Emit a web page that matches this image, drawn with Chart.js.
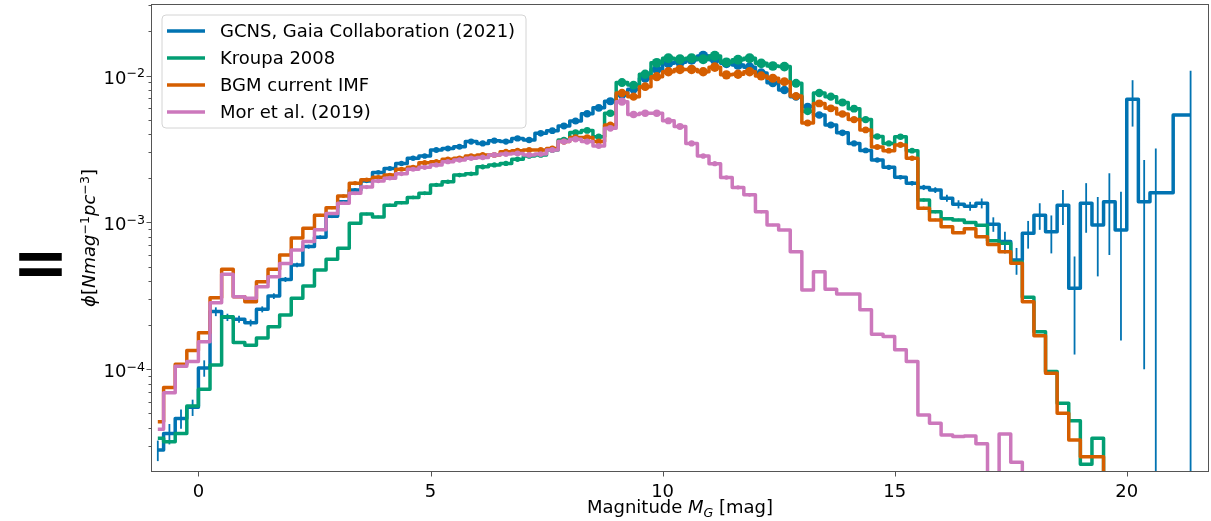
<!DOCTYPE html>
<html><head><meta charset="utf-8">
<script src="https://cdn.jsdelivr.net/npm/chart.js@4.4.1/dist/chart.umd.min.js"></script>
<style>
html,body{margin:0;padding:0;background:#fff;}
#wrap{position:relative;width:1211px;height:521px;overflow:hidden;}
canvas{position:absolute;left:0;top:0;}
#eq{position:absolute;left:12px;top:229px;font:bold 68px "DejaVu Sans";line-height:68px;color:#000;}
</style></head><body>
<div id="wrap"><canvas id="c" width="1211" height="521"></canvas><div id="eq">=</div></div>
<script>
// bin centres (0.25 mag bins starting at -1 mag)
const binCenters = Array.from({length: 90}, (_, i) => -0.875 + 0.25 * i);
const xTicks = [0, 5, 10, 15, 20];
const yTicks = [1e-4, 1e-3, 1e-2];
const seriesLabels = ['GCNS, Gaia Collaboration (2021)', 'Kroupa 2008', 'BGM current IMF', 'Mor et al. (2019)'];

const gcns = [2.82e-5, 3.66e-5, 4.63e-5, 5.51e-5, 1.02e-4, 2.47e-4, 2.26e-4, 2.19e-4, 2.07e-4, 2.56e-4,
3.15e-4, 4.09e-4, 5.13e-4, 6.84e-4, 7.93e-4, 1.10e-3, 1.38e-3, 1.66e-3, 1.91e-3, 2.19e-3,
2.33e-3, 2.52e-3, 2.73e-3, 2.83e-3, 3.11e-3, 3.19e-3, 3.27e-3, 3.55e-3, 3.45e-3, 3.60e-3,
3.55e-3, 3.73e-3, 3.64e-3, 4.04e-3, 4.21e-3, 4.53e-3, 4.90e-3, 5.50e-3, 6.03e-3, 6.68e-3,
7.36e-3, 8.07e-3, 9.57e-3, 1.10e-2, 1.21e-2, 1.23e-2, 1.28e-2, 1.36e-2, 1.28e-2, 1.21e-2,
1.18e-2, 1.14e-2, 1.04e-2, 8.93e-3, 7.96e-3, 7.18e-3, 6.14e-3, 5.38e-3, 4.60e-3, 4.07e-3,
3.45e-3, 3.09e-3, 2.66e-3, 2.37e-3, 2.03e-3, 1.85e-3, 1.73e-3, 1.66e-3, 1.46e-3, 1.33e-3,
1.29e-3, 1.35e-3, 9.73e-4, 7.40e-4, 5.55e-4, 8.43e-4, 1.12e-3, 8.65e-4, 1.31e-3, 3.56e-4,
1.35e-3, 9.59e-4, 1.38e-3, 8.87e-4, 6.89e-3, 1.38e-3, 1.59e-3, null, null, 5.38e-3];

const gcnsErr = [0.45e-5, 0.58e-5, 0.70e-5, 0.70e-5, 1.3e-5, 1.7e-5, 1.3e-5, 1.2e-5, 1.1e-5, 1.2e-5,
1.4e-5, 1.6e-5, 1.8e-5, 2.2e-5, 2.4e-5, 3.0e-5, 3.5e-5, 4.0e-5, 4.4e-5, 4.8e-5,
5.2e-5, 5.5e-5, 5.8e-5, 6.0e-5, 6.5e-5, 6.6e-5, 6.8e-5, 7.2e-5, 7.0e-5, 7.2e-5,
7.1e-5, 7.4e-5, 7.3e-5, 8.0e-5, 8.3e-5, 8.8e-5, 9.5e-5, 1.05e-4, 1.15e-4, 1.25e-4,
1.35e-4, 1.5e-4, 1.7e-4, 1.9e-4, 2.1e-4, 2.1e-4, 2.2e-4, 2.3e-4, 2.2e-4, 2.1e-4,
2.05e-4, 2.0e-4, 1.85e-4, 1.65e-4, 1.5e-4, 1.4e-4, 1.25e-4, 1.15e-4, 1.05e-4, 9.5e-5,
8.5e-5, 8.0e-5, 7.5e-5, 7.0e-5, 6.5e-5, 6.5e-5, 7.0e-5, 7.5e-5, 8.0e-5, 8.5e-5,
9.0e-5, 1.05e-4, 1.1e-4, 1.25e-4, 1.15e-4, 1.8e-4, 2.3e-4, 2.5e-4, 3.5e-4, 2.3e-4,
5.0e-4, 5.3e-4, 7.8e-4, 7.3e-4, 2.4e-3, 1.28e-3, 1.6e-3, null, null, 5.4e-3];

const kroupa = [3.39e-5, 3.21e-5, 3.66e-5, 5.62e-5, 7.31e-5, 1.07e-4, 2.28e-4, 1.52e-4, 1.46e-4, 1.63e-4,
1.95e-4, 2.34e-4, 3.04e-4, 3.69e-4, 4.74e-4, 5.61e-4, 6.67e-4, 9.86e-4, 1.14e-3, 1.09e-3,
1.31e-3, 1.36e-3, 1.48e-3, 1.58e-3, 1.80e-3, 1.89e-3, 2.10e-3, 2.14e-3, 2.39e-3, 2.46e-3,
2.52e-3, 2.69e-3, 2.83e-3, 2.88e-3, 3.11e-3, 3.64e-3, 4.09e-3, 4.23e-3, 3.83e-3, 5.53e-3,
8.95e-3, 8.61e-3, 1.02e-2, 1.22e-2, 1.31e-2, 1.29e-2, 1.31e-2, 1.29e-2, 1.36e-2, 1.23e-2,
1.28e-2, 1.31e-2, 1.21e-2, 1.16e-2, 1.15e-2, 8.85e-3, 5.70e-3, 7.60e-3, 7.18e-3, 6.55e-3,
5.94e-3, 5.01e-3, 3.85e-3, 3.45e-3, 3.83e-3, 3.08e-3, 1.42e-3, 1.18e-3, 1.06e-3, 1.04e-3,
1.00e-3, 9.55e-4, 7.50e-4, 7.21e-4, 5.37e-4, 3.09e-4, 1.80e-4, 9.64e-5, 5.86e-5, 4.47e-5,
2.26e-5, 3.39e-5, 1e-5];

const bgm = [4.40e-5, 7.53e-5, 1.08e-4, 1.34e-4, 1.77e-4, 3.07e-4, 4.80e-4, 3.12e-4, 2.88e-4, 3.94e-4,
4.80e-4, 6.00e-4, 7.82e-4, 9.12e-4, 1.12e-3, 1.26e-3, 1.51e-3, 1.85e-3, 1.95e-3, 2.03e-3,
2.10e-3, 2.30e-3, 2.37e-3, 2.55e-3, 2.59e-3, 2.69e-3, 2.73e-3, 2.83e-3, 2.88e-3, 2.88e-3,
3.03e-3, 3.08e-3, 3.11e-3, 3.11e-3, 3.19e-3, 3.55e-3, 3.79e-3, 3.79e-3, 3.55e-3, 4.60e-3,
7.60e-3, 7.18e-3, 8.39e-3, 9.82e-3, 1.06e-2, 1.10e-2, 1.10e-2, 1.06e-2, 1.14e-2, 1.01e-2,
1.02e-2, 1.06e-2, 9.93e-3, 9.57e-3, 9.08e-3, 7.24e-3, 4.75e-3, 6.46e-3, 5.98e-3, 5.46e-3,
5.01e-3, 4.26e-3, 3.26e-3, 3.08e-3, 3.37e-3, 2.73e-3, 1.25e-3, 1.04e-3, 9.35e-4, 8.51e-4,
9.04e-4, 8.00e-4, 7.08e-4, 6.31e-4, 5.27e-4, 2.88e-4, 1.69e-4, 9.40e-5, 5.01e-5, 3.30e-5,
2.54e-5, 2.54e-5, 1e-5];

const mor = [3.90e-5, 6.92e-5, 1.05e-4, 1.13e-4, 1.54e-4, 2.84e-4, 4.44e-4, 3.12e-4, 3.04e-4, 3.65e-4,
4.27e-4, 5.26e-4, 6.49e-4, 7.41e-4, 8.91e-4, 1.15e-3, 1.35e-3, 1.58e-3, 1.74e-3, 1.91e-3,
2.00e-3, 2.14e-3, 2.30e-3, 2.37e-3, 2.46e-3, 2.59e-3, 2.66e-3, 2.73e-3, 2.77e-3, 2.88e-3,
2.92e-3, 2.95e-3, 2.88e-3, 2.92e-3, 3.11e-3, 3.55e-3, 3.68e-3, 3.55e-3, 3.31e-3, 4.37e-3,
6.64e-3, 5.43e-3, 5.53e-3, 5.53e-3, 4.92e-3, 4.49e-3, 3.45e-3, 2.83e-3, 2.51e-3, 2.02e-3,
1.73e-3, 1.54e-3, 1.18e-3, 9.59e-4, 8.87e-4, 6.31e-4, 3.47e-4, 4.61e-4, 3.51e-4, 3.26e-4,
3.26e-4, 2.54e-4, 1.73e-4, 1.67e-4, 1.36e-4, 1.13e-4, 4.89e-5, 4.29e-5, 3.57e-5, 3.48e-5,
3.51e-5, 3.11e-5, 1e-5, 3.63e-5, 2.33e-5, 1e-5];

const colors = ['#0173b2', '#029e73', '#d55e00', '#cc78bc'];
const allSeries = [gcns, kroupa, bgm, mor];

const Y_MIN = 2.03e-5, Y_MAX = 0.0302, X_MIN = -1, X_MAX = 21.75;
const FONT = '"DejaVu Sans", sans-serif';

function toPoints(vals) {
  return binCenters.map((x, i) => ({x: x, y: (vals[i] === undefined ? null : vals[i])}));
}
function markerRadius(maxIdx) {
  return function (ctx) {
    if (maxIdx !== undefined && ctx.dataIndex > maxIdx) return 0;
    const v = ctx.raw && ctx.raw.y;
    if (!v || v < Y_MIN) return 0;
    const r = (Math.log10(v) + 3.4) * 3.3;
    return r < 1 ? 0 : Math.min(r, 5.3);
  };
}

function drawRich(ctx, pieces, x, y, size) {
  let cx = x;
  for (const p of pieces) {
    const s = (p.sup || p.sub) ? size * 0.7 : size;
    ctx.font = (p.it ? 'italic ' : '') + s + 'px ' + FONT;
    const dy = p.sup ? -size * 0.36 : (p.sub ? size * 0.2 : 0);
    ctx.fillText(p.t, cx, y + dy);
    cx += ctx.measureText(p.t).width;
  }
  return cx - x;
}
function richWidth(ctx, pieces, size) {
  let w = 0;
  for (const p of pieces) {
    const s = (p.sup || p.sub) ? size * 0.7 : size;
    ctx.font = (p.it ? 'italic ' : '') + s + 'px ' + FONT;
    w += ctx.measureText(p.t).width;
  }
  return w;
}

const decor = {
  id: 'decor',
  afterDatasetDraw(chart, args) {
    if (args.index !== 0) return;
    const ctx = chart.ctx, a = chart.chartArea, xs = chart.scales.x, ys = chart.scales.y;
    ctx.save();
    ctx.beginPath(); ctx.rect(a.left, a.top, a.right - a.left, a.bottom - a.top); ctx.clip();
    ctx.strokeStyle = colors[0]; ctx.lineWidth = 1.8; ctx.lineCap = 'butt';
    for (let i = 0; i < gcns.length; i++) {
      const v = gcns[i], e = gcnsErr[i];
      if (v == null || e == null) continue;
      const px = xs.getPixelForValue(binCenters[i]);
      const yTop = ys.getPixelForValue(v + e);
      const yBot = (v - e) > 0 ? ys.getPixelForValue(v - e) : a.bottom + 10;
      ctx.beginPath(); ctx.moveTo(px, yTop); ctx.lineTo(px, yBot); ctx.stroke();
    }
    ctx.restore();
  },
  afterDraw(chart) {
    const ctx = chart.ctx, a = chart.chartArea, xs = chart.scales.x, ys = chart.scales.y;
    ctx.save();
    // frame
    ctx.strokeStyle = '#555'; ctx.lineWidth = 1;
    ctx.strokeRect(a.left - 0.5, a.top - 0.5, a.right - a.left + 1, a.bottom - a.top + 1);
    // x ticks
    ctx.beginPath();
    for (const t of xTicks) {
      const px = Math.round(xs.getPixelForValue(t)) + 0.5;
      ctx.moveTo(px, a.bottom + 0.5); ctx.lineTo(px, a.bottom + 5.5);
    }
    // y ticks (major + minor)
    for (let d = -5; d <= -2; d++) {
      for (let m = 1; m <= 9; m++) {
        const v = m * Math.pow(10, d);
        if (v < Y_MIN || v > Y_MAX) continue;
        const py = Math.round(ys.getPixelForValue(v)) + 0.5;
        const len = (m === 1) ? 5 : 3;
        ctx.moveTo(a.left - 0.5, py); ctx.lineTo(a.left - 0.5 - len, py);
      }
    }
    ctx.stroke();
    ctx.fillStyle = '#000';
    // x tick labels
    ctx.font = '18px ' + FONT; ctx.textAlign = 'center'; ctx.textBaseline = 'alphabetic';
    for (const t of xTicks) ctx.fillText(String(t), xs.getPixelForValue(t), 497);
    // y tick labels
    ctx.textAlign = 'left';
    for (const t of yTicks) {
      const exp = Math.round(Math.log10(t));
      const pieces = [{t: '10'}, {t: '\u2212' + Math.abs(exp), sup: true}];
      const w = richWidth(ctx, pieces, 18);
      const py = ys.getPixelForValue(t);
      drawRich(ctx, pieces, a.left - 7 - w, py + 8, 18);
    }
    // x title
    const xt = [{t: 'Magnitude '}, {t: 'M', it: true}, {t: 'G', it: true, sub: true}, {t: ' [mag]'}];
    const xw = richWidth(ctx, xt, 18);
    drawRich(ctx, xt, (a.left + a.right) / 2 - xw / 2, 513, 18);
    // y title
    const yt = [{t: '\u03d5', it: true}, {t: '['}, {t: 'Nmag', it: true}, {t: '\u22121', sup: true}, {t: 'pc', it: true}, {t: '\u22123', sup: true}, {t: ']'}];
    const yw = richWidth(ctx, yt, 18);
    ctx.save();
    ctx.translate(95, (a.top + a.bottom) / 2);
    ctx.rotate(-Math.PI / 2);
    drawRich(ctx, yt, -yw / 2, 0, 18);
    ctx.restore();
    // legend
    const lx = 162, ly = 15, lw = 364, lh = 113, r = 4;
    ctx.beginPath();
    ctx.moveTo(lx + r, ly); ctx.lineTo(lx + lw - r, ly); ctx.quadraticCurveTo(lx + lw, ly, lx + lw, ly + r);
    ctx.lineTo(lx + lw, ly + lh - r); ctx.quadraticCurveTo(lx + lw, ly + lh, lx + lw - r, ly + lh);
    ctx.lineTo(lx + r, ly + lh); ctx.quadraticCurveTo(lx, ly + lh, lx, ly + lh - r);
    ctx.lineTo(lx, ly + r); ctx.quadraticCurveTo(lx, ly, lx + r, ly);
    ctx.closePath();
    ctx.fillStyle = 'rgba(255,255,255,0.85)'; ctx.fill();
    ctx.strokeStyle = '#d4d4d4'; ctx.lineWidth = 1; ctx.stroke();
    ctx.font = '18px ' + FONT; ctx.textBaseline = 'middle'; ctx.textAlign = 'left';
    seriesLabels.forEach((lab, i) => {
      const yy = 31 + i * 27;
      ctx.strokeStyle = colors[i]; ctx.lineWidth = 3.6;
      ctx.beginPath(); ctx.moveTo(167, yy); ctx.lineTo(205, yy); ctx.stroke();
      ctx.fillStyle = '#000';
      ctx.fillText(lab, 220, yy + 1);
    });
    ctx.restore();
  }
};

const datasets = allSeries.map((vals, i) => ({
  label: seriesLabels[i],
  data: toPoints(vals),
  borderColor: colors[i],
  backgroundColor: colors[i],
  pointBackgroundColor: colors[i],
  pointBorderWidth: 0,
  pointRadius: markerRadius(i === 0 ? 71 : undefined),
  pointHoverRadius: 0,
  borderWidth: 3.5,
  borderJoinStyle: 'round',
  stepped: 'middle',
  spanGaps: true,
  tension: 0,
  clip: 0,
  order: 4 - i
}));

new Chart(document.getElementById('c'), {
  type: 'line',
  data: {datasets: datasets},
  options: {
    responsive: false,
    animation: false,
    events: [],
    layout: {padding: {left: 0, top: 5, right: 3, bottom: 0}},
    plugins: {legend: {display: false}, tooltip: {enabled: false}},
    scales: {
      x: {
        type: 'linear', min: X_MIN, max: X_MAX, bounds: 'data',
        ticks: {display: false},
        grid: {display: false, drawTicks: false},
        border: {display: false},
        afterFit: s => { s.height = 50; }
      },
      y: {
        type: 'logarithmic', min: Y_MIN, max: Y_MAX, bounds: 'data',
        ticks: {display: false},
        grid: {display: false, drawTicks: false},
        border: {display: false},
        afterFit: s => { s.width = 152; }
      }
    }
  },
  plugins: [decor]
});
</script>
</body></html>
